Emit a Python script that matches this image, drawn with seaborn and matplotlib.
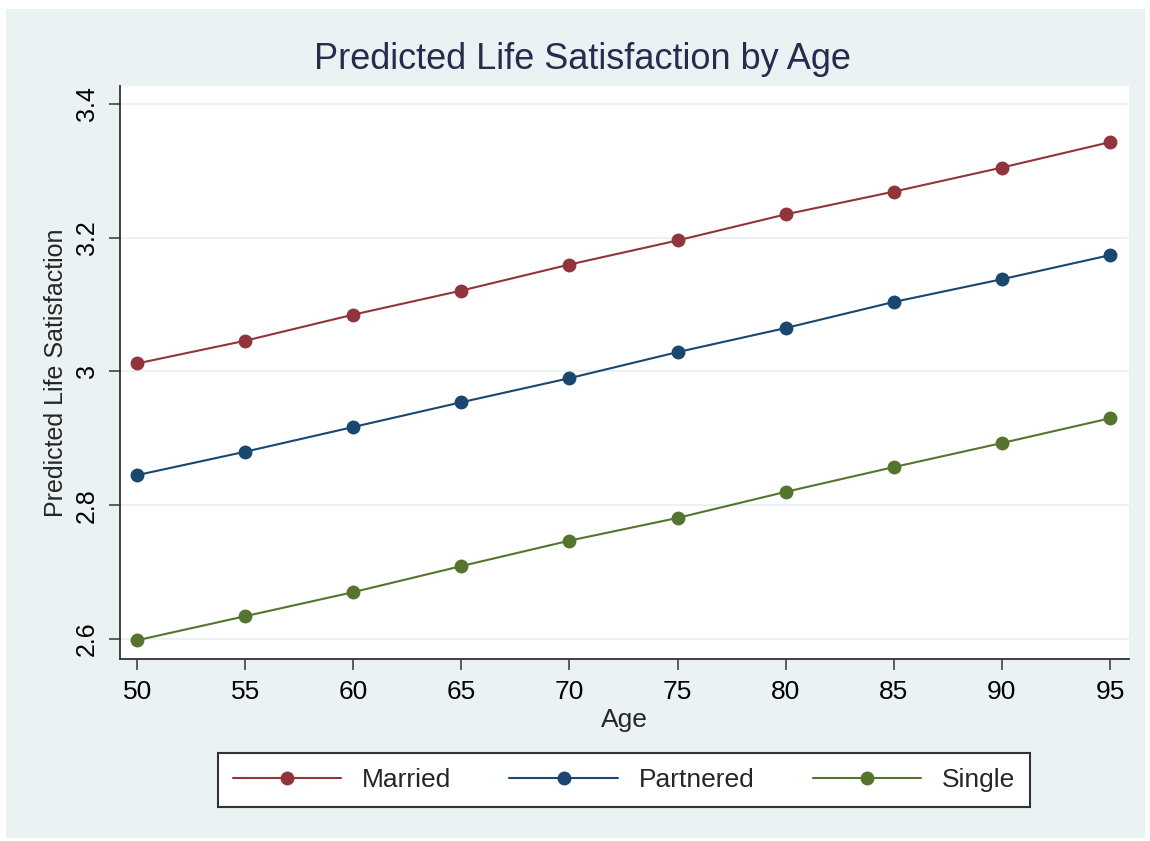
import pandas as pd
import seaborn as sns
import matplotlib.pyplot as plt
from matplotlib.patches import Rectangle
from matplotlib.ticker import FuncFormatter

ages = [50, 55, 60, 65, 70, 75, 80, 85, 90, 95]
married = [3.012, 3.046, 3.085, 3.121, 3.160, 3.196, 3.235, 3.269, 3.305, 3.343]
partnered = [2.845, 2.880, 2.917, 2.954, 2.990, 3.029, 3.065, 3.104, 3.138, 3.174]
single = [2.598, 2.634, 2.670, 2.709, 2.747, 2.781, 2.820, 2.857, 2.893, 2.930]
groups = ["Married", "Partnered", "Single"]
colors = ["#90353B", "#1A476F", "#55752F"]

df = pd.DataFrame({
    "Age": ages * 3,
    "Pred": married + partnered + single,
    "Status": [g for g in groups for _ in ages],
})

sns.set_style("white")
plt.rcParams["font.family"] = ["Liberation Sans", "DejaVu Sans"]

bg = "#EAF2F3"
W, H = 1150, 841
fig = plt.figure(figsize=(11.5, 8.41), dpi=100, facecolor="white")
fig.patches.append(Rectangle((6 / W, 3 / H), 1139 / W, 829 / H,
                             transform=fig.transFigure, facecolor=bg,
                             edgecolor="none", zorder=-10))
ax = fig.add_axes([120 / W, 1 - 659 / H, 1009 / W, 573 / H])
ax.set_facecolor("white")

sns.lineplot(data=df, x="Age", y="Pred", hue="Status", palette=colors,
             marker="o", markersize=10, markeredgewidth=0, linewidth=1.5,
             ax=ax, legend=False)

ax.set_xlim(49.21, 95.88)
ax.set_ylim(2.570, 3.427)
ax.set_xticks(ages)
ax.set_yticks([2.6, 2.8, 3.0, 3.2, 3.4])
ax.yaxis.set_major_formatter(FuncFormatter(lambda v, p: "%g" % round(v, 2)))
ax.grid(axis="y", color=bg, linewidth=1.5)
ax.set_axisbelow(True)

for s in ["top", "right"]:
    ax.spines[s].set_visible(False)
for s in ["left", "bottom"]:
    ax.spines[s].set_color("#333333")
    ax.spines[s].set_linewidth(1.3)

ax.tick_params(axis="both", direction="out", length=8, width=1.2,
               color="#444444", labelcolor="black", bottom=True, left=True)
ax.tick_params(axis="x", labelsize=19, pad=7)
ax.tick_params(axis="y", labelsize=18, pad=7, labelrotation=90)
for lab in ax.get_yticklabels():
    lab.set_va("center")

ax.set_xlabel("Age", fontsize=19, labelpad=3)
ax.set_ylabel("Predicted Life Satisfaction", fontsize=18, labelpad=5)
fig.text(582 / W, 1 - 69 / H, "Predicted Life Satisfaction by Age",
         fontsize=26, color="#262C4E", ha="center", va="baseline")

handles = [plt.Line2D([], [], color=c, marker="o", markersize=10,
                      markeredgewidth=0, linewidth=1.5) for c in colors]
leg = fig.legend(handles, groups, ncol=3, loc="center",
                 bbox_to_anchor=(624 / W, 1 - 780 / H), fontsize=19,
                 frameon=True, fancybox=False, edgecolor="#333333",
                 facecolor="white", framealpha=1, handlelength=4.1,
                 columnspacing=2.2, borderpad=0.55, handletextpad=0.8,
                 borderaxespad=0)
leg.get_frame().set_linewidth(1.5)

fig.savefig("out.png", dpi=100, facecolor="white")
